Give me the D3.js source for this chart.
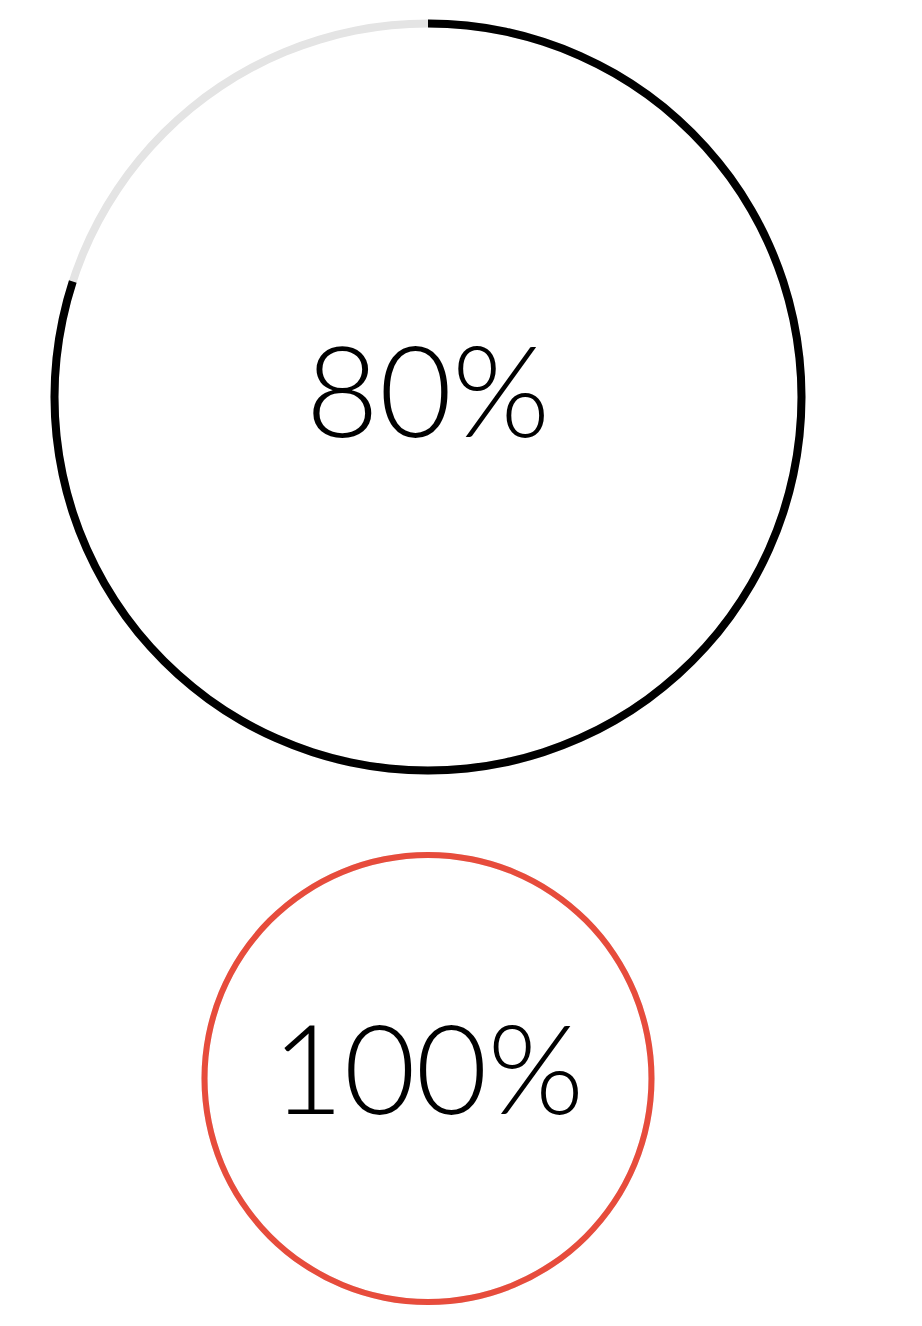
<!DOCTYPE html>
<html>
<head>
<meta charset="utf-8">
<script src="https://cdn.jsdelivr.net/npm/d3@7"></script>
<style>
  html, body { margin: 0; padding: 0; background: #fff; }
  svg { display: block; }
</style>
</head>
<body>
<div id="chart"></div>
<script>
// Datos de los anillos de progreso
var labels = ["80%", "100%"];
var values = [80, 100];
var ringColors = ["#000000", "#e74c3c"];

var width = 922;
var height = 1326;

// Geometría de cada anillo
var rings = [
    { cx: 428, cy: 397, r: 373.5, stroke: 8, fontSize: 126, baseline: 437 },
    { cx: 428, cy: 1078.5, r: 223.5, stroke: 6, fontSize: 124, baseline: 1114 }
];

var svg = d3.select("#chart")
            .append("svg")
            .attr("width", width)
            .attr("height", height);

// Escala del porcentaje al ángulo
var angleScale = d3.scaleLinear()
                   .domain([0, 100])
                   .range([0, 2 * Math.PI]);

rings.forEach(function(ring, i) {
    var g = svg.append("g")
               .attr("transform", "translate(" + ring.cx + "," + ring.cy + ")");

    var arc = d3.arc()
                .innerRadius(ring.r - ring.stroke / 2)
                .outerRadius(ring.r + ring.stroke / 2)
                .startAngle(0);

    // Pista de fondo
    g.append("path")
     .attr("d", arc({ endAngle: angleScale(100) }))
     .attr("fill", "#e4e4e4");

    // Arco de progreso
    g.append("path")
     .attr("d", arc({ endAngle: angleScale(values[i]) }))
     .attr("fill", ringColors[i]);

    // Etiqueta central
    svg.append("text")
       .attr("x", ring.cx)
       .attr("y", ring.baseline)
       .attr("text-anchor", "middle")
       .style("font-family", "'Century Gothic', 'URW Gothic', 'Avant Garde', Lato, sans-serif")
       .style("font-weight", 300)
       .style("font-size", ring.fontSize + "px")
       .style("fill", "#000")
       .text(labels[i]);
});
</script>
</body>
</html>
